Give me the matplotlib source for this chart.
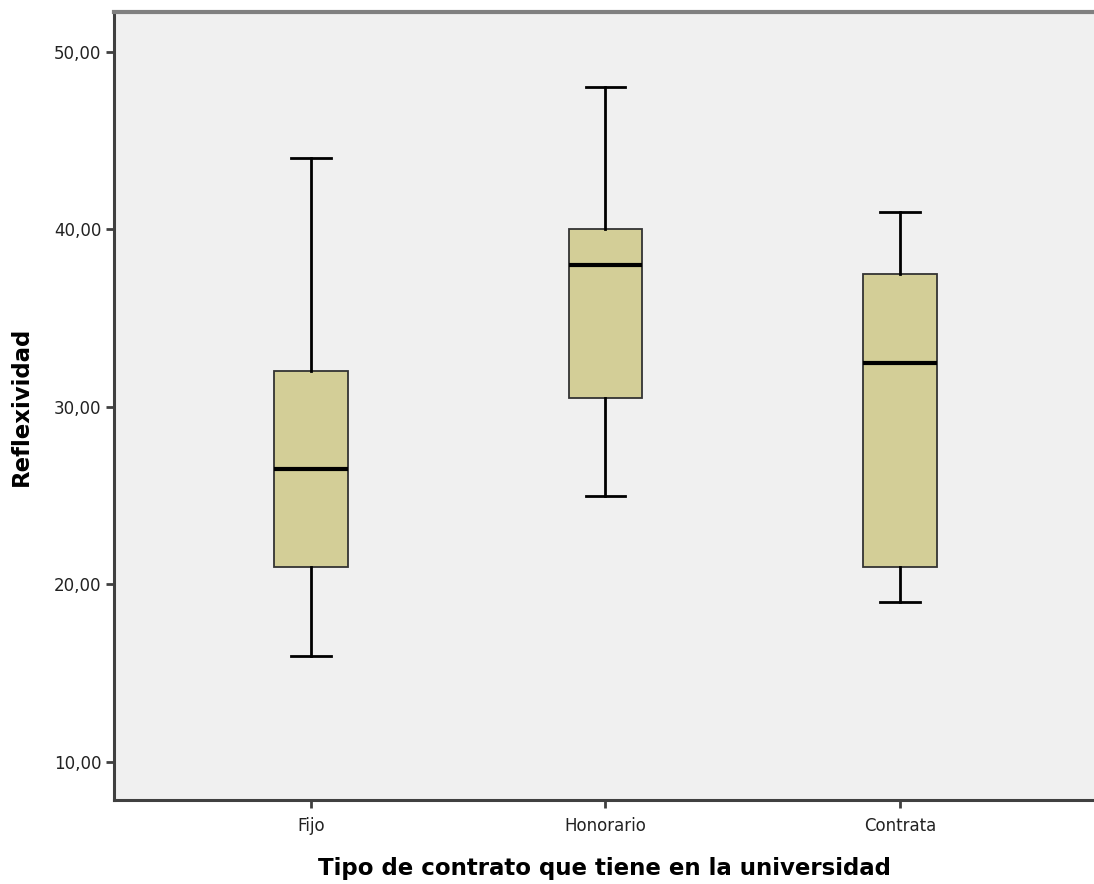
import matplotlib.pyplot as plt

plt.rcParams['font.family'] = ['DejaVu Sans']

# Resumen de cinco números por tipo de contrato
categorias = ["Fijo", "Honorario", "Contrata"]
minimos = [16.0, 25.0, 19.0]
q1 = [21.0, 30.5, 21.0]
medianas = [26.5, 38.0, 32.5]
q3 = [32.0, 40.0, 37.5]
maximos = [44.0, 48.0, 41.0]

stats = []
for i, cat in enumerate(categorias):
    stats.append({"label": cat, "whislo": minimos[i], "q1": q1[i], "med": medianas[i],
                  "q3": q3[i], "whishi": maximos[i], "fliers": []})

fig = plt.figure(figsize=(10.94, 8.84), dpi=100)
ax = fig.add_axes([114 / 1094, 84 / 884, 1 - 114 / 1094, 788 / 884])
ax.set_facecolor("#f0f0f0")

ax.bxp(stats, positions=[1, 2, 3], widths=0.25, patch_artist=True, showfliers=False,
       boxprops=dict(facecolor="#d3ce97", edgecolor="#333333", linewidth=1.3),
       medianprops=dict(color="black", linewidth=3),
       whiskerprops=dict(color="black", linewidth=2),
       capprops=dict(color="black", linewidth=2),
       capwidths=0.135)

ax.set_xlim(0.33, 3.66)
ax.set_ylim(7.86, 52.25)
ax.set_yticks([10, 20, 30, 40, 50])
ax.set_yticklabels(["10,00", "20,00", "30,00", "40,00", "50,00"], fontsize=12, color="#222222")
ax.set_xticks([1, 2, 3])
ax.set_xticklabels(categorias, fontsize=12, color="#222222")
ax.tick_params(axis="both", direction="out", length=6, width=2, color="#404040", pad=3)
ax.tick_params(axis="x", pad=6)

ax.spines["right"].set_visible(False)
ax.spines["top"].set_color("#808080")
ax.spines["top"].set_linewidth(3)
for s in ["left", "bottom"]:
    ax.spines[s].set_color("#404040")
    ax.spines[s].set_linewidth(2.2)

ax.set_ylabel("Reflexividad", fontsize=16.5, fontweight="bold", labelpad=15)
ax.set_xlabel("Tipo de contrato que tiene en la universidad", fontsize=16.5, fontweight="bold", labelpad=16)

fig.savefig("out.png", dpi=100)
